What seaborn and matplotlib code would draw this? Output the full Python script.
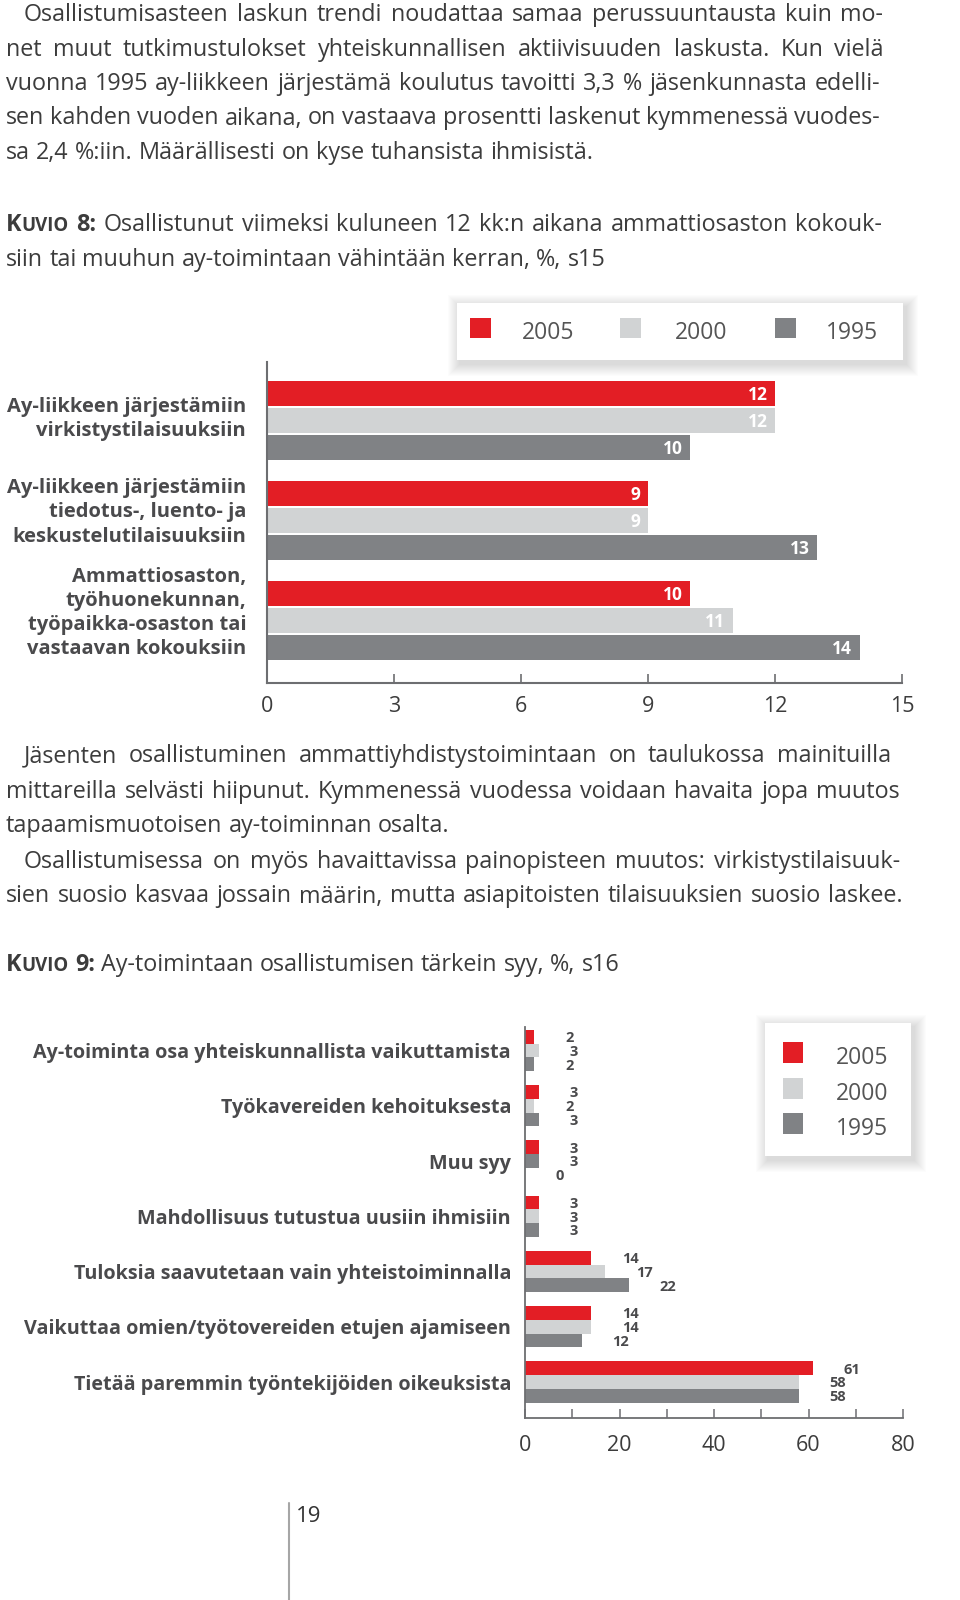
import matplotlib
matplotlib.use('Agg')
import matplotlib.pyplot as plt
import seaborn as sns
import pandas as pd
import numpy as np
from matplotlib.patches import Rectangle
from matplotlib.lines import Line2D

sns.set_theme(style='white')
FONT = ['Open Sans', 'DejaVu Sans']
plt.rcParams['font.family'] = FONT

# ---------------- data ----------------
years = ['2005', '2000', '1995']

k8_categories = ["Ay-liikkeen järjestämiin\nvirkistystilaisuuksiin",
                 "Ay-liikkeen järjestämiin\ntiedotus-, luento- ja\nkeskustelutilaisuuksiin",
                 "Ammattiosaston,\ntyöhuonekunnan,\ntyöpaikka-osaston tai\nvastaavan kokouksiin"]
k8_2005 = [12, 9, 10]
k8_2000 = [12, 9, 11]
k8_1995 = [10, 13, 14]
k8_ticks = [0, 3, 6, 9, 12, 15]

k9_categories = ["Ay-toiminta osa yhteiskunnallista vaikuttamista",
                 "Työkavereiden kehoituksesta",
                 "Muu syy",
                 "Mahdollisuus tutustua uusiin ihmisiin",
                 "Tuloksia saavutetaan vain yhteistoiminnalla",
                 "Vaikuttaa omien/työtovereiden etujen ajamiseen",
                 "Tietää paremmin työntekijöiden oikeuksista"]
k9_2005 = [2, 3, 3, 3, 14, 14, 61]
k9_2000 = [3, 2, 3, 3, 17, 14, 58]
k9_1995 = [2, 3, 0, 3, 22, 12, 58]
k9_ticks = [0, 20, 40, 60, 80]
k9_minor = [10, 30, 50, 70]

para1 = ["Osallistumisasteen laskun trendi noudattaa samaa perussuuntausta kuin mo-",
         "net muut tutkimustulokset yhteiskunnallisen aktiivisuuden laskusta. Kun vielä",
         "vuonna 1995 ay-liikkeen järjestämä koulutus tavoitti 3,3 % jäsenkunnasta edelli-",
         "sen kahden vuoden aikana, on vastaava prosentti laskenut kymmenessä vuodes-",
         "sa 2,4 %:iin. Määrällisesti on kyse tuhansista ihmisistä."]
title8 = ["Osallistunut viimeksi kuluneen 12 kk:n aikana ammattiosaston kokouk-",
          "siin tai muuhun ay-toimintaan vähintään kerran, %, s15"]
para2 = ["Jäsenten osallistuminen ammattiyhdistystoimintaan on taulukossa mainituilla",
         "mittareilla selvästi hiipunut. Kymmenessä vuodessa voidaan havaita jopa muutos",
         "tapaamismuotoisen ay-toiminnan osalta.",
         "Osallistumisessa on myös havaittavissa painopisteen muutos: virkistystilaisuuk-",
         "sien suosio kasvaa jossain määrin, mutta asiapitoisten tilaisuuksien suosio laskee."]
title9 = ["Ay-toimintaan osallistumisen tärkein syy, %, s16"]
page_number = "19"

# ---------------- style ----------------
RED, LIGHT, DARK = '#E31E25', '#D1D3D4', '#808285'
TXT, LBL, AXC = '#3c3c3c', '#4a4a4c', '#6d6e71'
W, H = 960, 1600

fig = plt.figure(figsize=(9.6, 16), dpi=100)
fig.patch.set_facecolor('white')
R = fig.canvas.get_renderer()


def tw(s, size, weight):
    t = fig.text(0, 0, s, fontsize=size, fontweight=weight)
    w = t.get_window_extent(renderer=R).width
    t.remove()
    return w


def draw_line(tokens, x0, base, size, x1=None, color=TXT):
    toks = []
    for tk in tokens:
        toks.append([(tk, size, 'normal')] if isinstance(tk, str) else tk)
    widths = [sum(tw(s, z, w) for s, z, w in tk) for tk in toks]
    if x1 is not None and len(toks) > 1:
        gap = (x1 - x0 - sum(widths)) / (len(toks) - 1)
    else:
        gap = tw('a a', size, 'normal') - tw('aa', size, 'normal')
    x = x0
    for tk, wd in zip(toks, widths):
        xx = x
        for s, z, w in tk:
            fig.text(xx / W, 1 - base / H, s, fontsize=z, fontweight=w,
                     color=color, ha='left', va='baseline')
            xx += tw(s, z, w)
        x += wd + gap


BS = 16.8
kuvio = lambda n: [[('K', BS, 'bold'), ('UVIO', BS * 0.8, 'bold')], [(n + ':', BS, 'bold')]]

# paragraph 1
p1_x0 = [24, 6, 6, 6, 6]
p1_x1 = [883, 884, 880, 880, None]
p1_base = [21, 55.5, 90, 124.5, 159]
for s, a, b, y in zip(para1, p1_x0, p1_x1, p1_base):
    draw_line(s.split(' '), a, y, BS, b)

# title 8
draw_line(kuvio('8') + title8[0].split(' '), 6, 231, BS, 882)
draw_line(title8[1].split(' '), 6, 266, BS, None)

# paragraph 2
p2_x0 = [24, 6, 6, 24, 6]
p2_x1 = [891, 900, None, 900, 903]
p2_base = [762, 797.5, 832.5, 867.5, 902.5]
for s, a, b, y in zip(para2, p2_x0, p2_x1, p2_base):
    draw_line(s.split(' '), a, y, BS, b)

# title 9
draw_line(kuvio('9') + title9[0].split(' '), 6, 971, BS, None)


# ---------------- legends ----------------
def legend_box(x0, y0, x1, y1):
    for i in range(12, 0, -1):
        fig.add_artist(Rectangle(((x0 - i + 3) / W, 1 - (y1 + i + 4) / H),
                                 (x1 - x0 + 2 * i) / W, (y1 - y0 + 2 * i) / H,
                                 transform=fig.transFigure, facecolor='black',
                                 edgecolor='none', alpha=0.012, zorder=1))
    fig.add_artist(Rectangle((x0 / W, 1 - y1 / H), (x1 - x0) / W, (y1 - y0) / H,
                             transform=fig.transFigure, facecolor='white',
                             edgecolor='none', zorder=2))


def legend_item(sx, sy, sw, sh, color, label, tx, tbase, size):
    fig.add_artist(Rectangle((sx / W, 1 - (sy + sh) / H), sw / W, sh / H,
                             transform=fig.transFigure, facecolor=color,
                             edgecolor='none', zorder=3))
    fig.text(tx / W, 1 - tbase / H, label, fontsize=size, color='#555555',
             ha='left', va='baseline', zorder=4)


palette = [RED, LIGHT, DARK]
legend_box(457, 303, 903, 360)
for (sx, tx), c, lab in zip([(470, 522), (620, 675), (775, 826)], palette, years):
    legend_item(sx, 318, 21, 20, c, lab, tx, 339, 16.5)

legend_box(765, 1023, 911, 1156)
for sy, c, lab in zip([1042, 1078, 1113], palette, years):
    legend_item(783, sy, 20, 21, c, lab, 836, sy + 22, 16.5)

# ---------------- chart 8 ----------------
df8 = pd.DataFrame({'cat': k8_categories * 3,
                    'year': np.repeat(years, len(k8_categories)),
                    'val': k8_2005 + k8_2000 + k8_1995})
ax8 = fig.add_axes([267 / W, 1 - 683 / H, 635 / W, 321 / H])
sns.barplot(data=df8, x='val', y='cat', hue='year', hue_order=years,
            palette=palette, orient='h', width=0.81, gap=0.07, saturation=1,
            linewidth=0, errorbar=None, legend=False, ax=ax8)
ax8.set_facecolor('none')
ax8.set_xlim(0, 15)
ax8.set_ylim(2.627, -0.583)
ax8.set_xlabel('')
ax8.set_ylabel('')
ax8.set_xticks(k8_ticks, labels=[str(t) for t in k8_ticks])
label_shift = [0.06, 0.125, 0.12]   # category labels sit slightly above group centres
ax8.set_yticks(np.arange(len(k8_categories)) - np.array(label_shift), labels=k8_categories)
for sp in ['top', 'right']:
    ax8.spines[sp].set_visible(False)
for sp in ['left', 'bottom']:
    ax8.spines[sp].set_color(AXC)
    ax8.spines[sp].set_linewidth(1.5)
ax8.tick_params(axis='x', direction='in', length=6.5, width=1.2, color=AXC,
                pad=9, labelsize=15.5, labelcolor=TXT, bottom=True)
ax8.tick_params(axis='y', length=0, pad=15, labelsize=14.5, labelcolor=LBL)
for lb in ax8.get_yticklabels():
    lb.set_fontweight('bold')
    lb.set_linespacing(1.28)
for cont in ax8.containers:
    for rect, v in zip(cont, cont.datavalues):
        ax8.annotate(f'{int(v)}', xy=(rect.get_x() + rect.get_width(),
                                       rect.get_y() + rect.get_height() / 2),
                     xytext=(-5.4, -1), textcoords='offset points', ha='right',
                     va='center', color='white', fontweight='bold', fontsize=12.5)

# ---------------- chart 9 ----------------
df9 = pd.DataFrame({'cat': k9_categories * 3,
                    'year': np.repeat(years, len(k9_categories)),
                    'val': k9_2005 + k9_2000 + k9_1995})
ax9 = fig.add_axes([525 / W, 1 - 1418 / H, 378 / W, 391 / H])
sns.barplot(data=df9, x='val', y='cat', hue='year', hue_order=years,
            palette=palette, orient='h', width=0.745, gap=0, saturation=1,
            linewidth=0, errorbar=None, legend=False, ax=ax9)
# in the source, the middle bar of "Muu syy" is printed in the dark tone
ax9.containers[1][k9_categories.index("Muu syy")].set_facecolor(DARK)
ax9.set_facecolor('none')
ax9.set_xlim(0, 80)
ax9.set_ylim(6.65, -0.425)
ax9.set_xlabel('')
ax9.set_ylabel('')
ax9.set_xticks(k9_ticks, labels=[str(t) for t in k9_ticks])
ax9.set_xticks(k9_minor, minor=True)
for sp in ['top', 'right']:
    ax9.spines[sp].set_visible(False)
for sp in ['left', 'bottom']:
    ax9.spines[sp].set_color(AXC)
    ax9.spines[sp].set_linewidth(1.3)
ax9.tick_params(axis='x', which='both', direction='in', length=6.5, width=1.1,
                color=AXC, pad=12, labelsize=15.5, labelcolor=TXT, bottom=True)
ax9.tick_params(axis='y', length=0, pad=10, labelsize=14.2, labelcolor=LBL)
for lb in ax9.get_yticklabels():
    lb.set_fontweight('bold')
for cont in ax9.containers:
    for rect, v in zip(cont, cont.datavalues):
        ax9.annotate(f'{int(v)}', xy=(rect.get_x() + rect.get_width(),
                                       rect.get_y() + rect.get_height() / 2),
                     xytext=(22, -1), textcoords='offset points', ha='left',
                     va='center', color=LBL, fontweight='bold', fontsize=10.5)

# ---------------- page number ----------------
fig.add_artist(Line2D([289 / W, 289 / W], [1 - 1503 / H, 0], transform=fig.transFigure,
                      color='#a6a6a6', linewidth=1.5))
fig.text(296 / W, 1 - 1522 / H, page_number, fontsize=16, color='#333333',
         ha='left', va='baseline')

fig.savefig('out.png', dpi=100)
